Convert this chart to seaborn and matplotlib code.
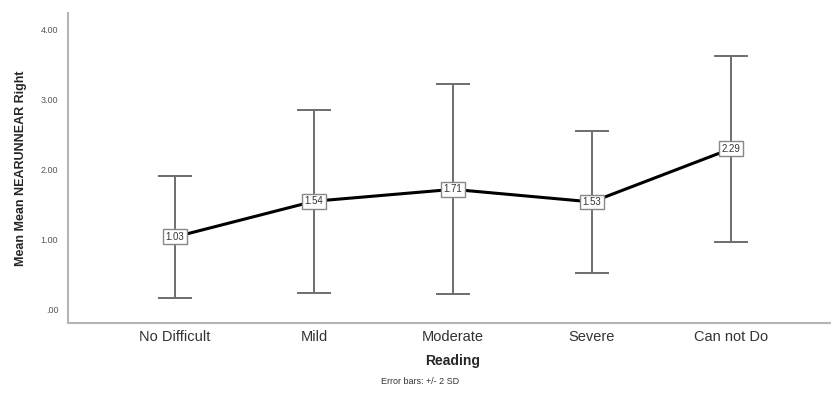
import matplotlib
matplotlib.use("Agg")
import matplotlib.pyplot as plt
import seaborn as sns
import pandas as pd

# Reading difficulty groups and the mean score per group
categories = ["No Difficult", "Mild", "Moderate", "Severe", "Can not Do"]
means = [1.03, 1.54, 1.71, 1.53, 2.29]
# Half-width of each error bar (2 standard deviations)
two_sd = [0.87, 1.31, 1.50, 1.02, 1.33]
y_ticks = [0.0, 1.0, 2.0, 3.0, 4.0]
y_tick_labels = [".00", "1.00", "2.00", "3.00", "4.00"]

sns.set_theme(style="white")
plt.rcParams["font.family"] = ["Liberation Sans", "DejaVu Sans"]

df = pd.DataFrame({"Reading": categories, "Mean": means, "Err": two_sd})
df["pos"] = range(len(df))

fig = plt.figure(figsize=(8.31, 3.93), dpi=100)
ax = fig.add_axes([68 / 831, (393 - 323) / 393, (838 - 68) / 831, (323 - 13) / 393])

ax.errorbar(df["pos"], df["Mean"], yerr=df["Err"], fmt="none",
            ecolor="#6e6e6e", elinewidth=1.4, capsize=12, capthick=1.4, zorder=2)
sns.lineplot(data=df, x="pos", y="Mean", color="black", linewidth=2.2,
             ax=ax, zorder=3, sort=False)

for x, y in zip(df["pos"], df["Mean"]):
    ax.text(x, y, f"{y:.2f}", ha="center", va="center", fontsize=7,
            color="#333333", zorder=4,
            bbox=dict(boxstyle="square,pad=0.25", facecolor="white",
                      edgecolor="#888888", linewidth=1.0))

ax.set_xlim(-0.77, 4.77)
ax.set_ylim(-0.2, 4.23)
ax.set_xticks(df["pos"])
ax.set_xticklabels(categories, fontsize=10.5, color="#333333")
ax.set_yticks(y_ticks)
ax.set_yticklabels(y_tick_labels, fontsize=6.5, color="#555555")
ax.tick_params(axis="x", length=0, pad=5)
ax.tick_params(axis="y", length=0, pad=7)

ax.set_xlabel("Reading", fontsize=10, fontweight="bold", labelpad=7)
ax.set_ylabel("Mean Mean NEARUNNEAR Right", fontsize=9, fontweight="bold",
              labelpad=10)

for side in ("top", "right"):
    ax.spines[side].set_visible(False)
for side in ("left", "bottom"):
    ax.spines[side].set_color("#b5b5b5")
    ax.spines[side].set_linewidth(1.5)

fig.text(420 / 831, 1 - 382 / 393, "Error bars: +/- 2 SD", ha="center",
         va="center", fontsize=6.5, color="#333333")

fig.savefig("out.png", dpi=100)
